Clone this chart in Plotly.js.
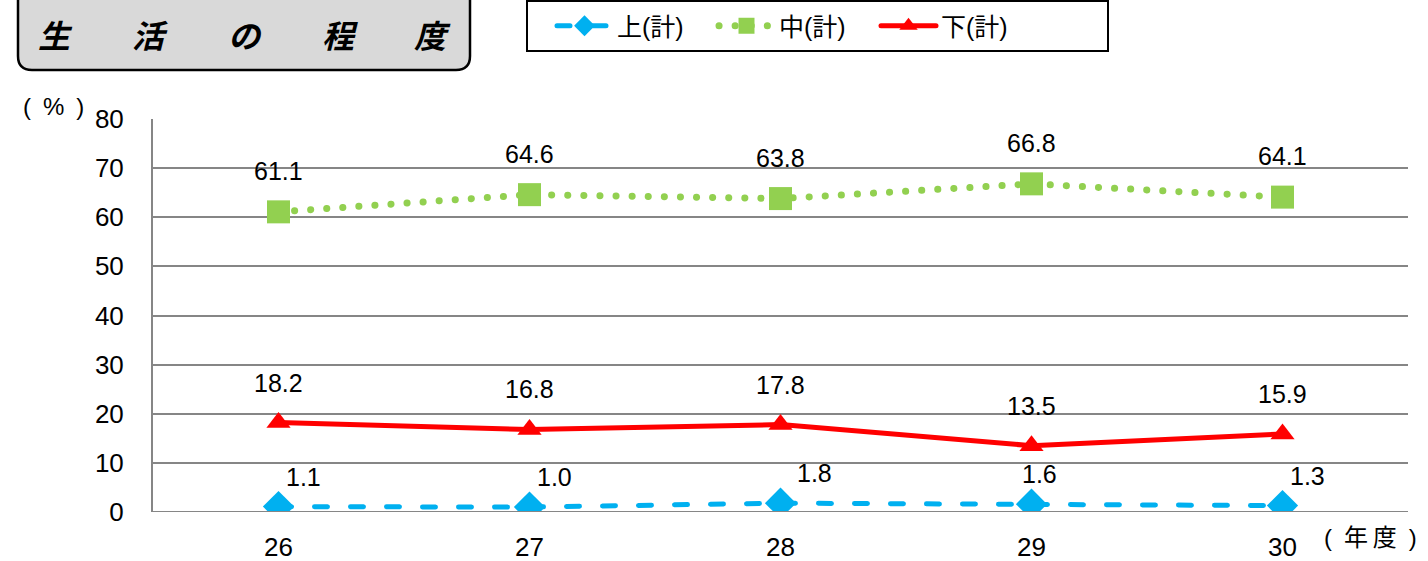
<!DOCTYPE html>
<html><head><meta charset="utf-8">
<script src="https://cdn.plot.ly/plotly-3.0.1.min.js"></script>
<style>html,body{margin:0;padding:0;background:#fff}#c{width:1428px;height:561px}
.js-line{stroke-linecap:round !important}</style>
</head><body><div id="c"></div>
<script>
const categories = ['26','27','28','29','30'];
const seriesNames = ['上(計)','中(計)','下(計)'];
const upper = [1.1, 1.0, 1.8, 1.6, 1.3];
const middle = [61.1, 64.6, 63.8, 66.8, 64.1];
const lower = [18.2, 16.8, 17.8, 13.5, 15.9];
const yTicks = [0,10,20,30,40,50,60,70,80];
const titleChars = ['生','活','の','程','度'];

const W=1428,H=561,L=153,R=20,T=119,B=49;
const pw=W-L-R, ph=H-T-B;
const px=x=>(x-L)/pw, py=y=>(H-B-y)/ph;
const F='"Liberation Sans", Arial, "Noto Sans CJK JP", sans-serif';
const FJ='"Liberation Sans", "Noto Sans CJK JP", sans-serif';

const traces=[
 {x:categories,y:upper,name:seriesNames[0],mode:'lines+markers',
  line:{color:'#00B0F0',width:5,dash:'13px,23px'},marker:{symbol:'diamond',size:24,color:'#00B0F0'}},
 {x:categories,y:middle,name:seriesNames[1],mode:'lines+markers',
  line:{color:'#92D050',width:7,dash:'0.1px,16px'},marker:{symbol:'square',size:23,color:'#92D050'}},
 {x:categories,y:lower,name:seriesNames[2],mode:'lines+markers',
  line:{color:'#FF0000',width:5},marker:{symbol:'triangle-up',size:21,color:'#FF0000'}}
];

const upperLabelShift=[25,25,34,8,25];
const ann=[];
const fmt=v=>v.toFixed(1);
const lf={family:F,size:25,color:'#000'};
categories.forEach((c,i)=>{
  ann.push({x:i,y:upper[i],text:fmt(upper[i]),showarrow:false,xshift:upperLabelShift[i],yshift:30,font:lf});
  ann.push({x:i,y:middle[i],text:fmt(middle[i]),showarrow:false,yshift:41,font:lf});
  ann.push({x:i,y:lower[i],text:fmt(lower[i]),showarrow:false,yshift:40,font:lf});
});
const pa=(x,y,text,font)=>({xref:'paper',yref:'paper',x:px(x),y:py(y),xanchor:'center',yanchor:'middle',text,showarrow:false,font});
ann.push(pa(53,107,'(\u2002%\u2002)',{family:FJ,size:24,color:'#000'}));
ann.push(pa(1370,537,'(\u2002年\u2009度\u2002)',{family:FJ,size:24,color:'#000'}));
const cx=[55,150,245,340,432];
titleChars.forEach((ch,i)=>{
  ann.push(pa(cx[i],34,'<b><i>'+ch+'</i></b>',{family:'"Noto Sans CJK JP", sans-serif',size:32,color:'#000'}));
});

const x0=px(18),x1=px(470),y0=py(-10),y1=py(70),rx=14/pw,ry=14/ph;
const path=`M ${x0} ${y0} L ${x0} ${y1+ry} Q ${x0} ${y1} ${x0+rx} ${y1} L ${x1-rx} ${y1} Q ${x1} ${y1} ${x1} ${y1+ry} L ${x1} ${y0}`;

const layout={
  width:W,height:H,margin:{l:L,r:R,t:T,b:B,autoexpand:false},
  paper_bgcolor:'#fff',plot_bgcolor:'#fff',
  font:{family:F,size:26,color:'#000'},
  showlegend:true,
  legend:{orientation:'h',x:px(552),y:py(26),xanchor:'left',yanchor:'middle',
    borderwidth:0,bgcolor:'rgba(0,0,0,0)',font:{family:FJ,size:25},
    itemwidth:55,entrywidth:92,traceorder:'normal'},
  xaxis:{type:'category',range:[-0.5,4.5],showgrid:false,zeroline:false,showline:false,
    ticks:'outside',ticklen:12,tickcolor:'rgba(0,0,0,0)',tickfont:{family:F,size:26}},
  yaxis:{range:[0,80],tickvals:yTicks,showgrid:true,gridcolor:'#868686',gridwidth:2,
    zeroline:false,showline:true,linecolor:'#868686',linewidth:2,
    ticks:'outside',ticklen:22,tickcolor:'rgba(0,0,0,0)',tickfont:{family:F,size:26}},
  annotations:ann,
  shapes:[
    {type:'path',xref:'paper',yref:'paper',path:path,fillcolor:'#D9D9D9',line:{color:'#000',width:2.5},layer:'below'},
    {type:'rect',xref:'paper',yref:'paper',x0:px(527),x1:px(1108),y0:py(51),y1:py(1),fillcolor:'#fff',line:{color:'#000',width:2},layer:'below'},
    {type:'line',xref:'paper',yref:'y',x0:0,x1:1,y0:0,y1:0,line:{color:'#868686',width:2}}
  ]
};
Plotly.newPlot('c',traces,layout,{displayModeBar:false,staticPlot:true});
</script></body></html>
